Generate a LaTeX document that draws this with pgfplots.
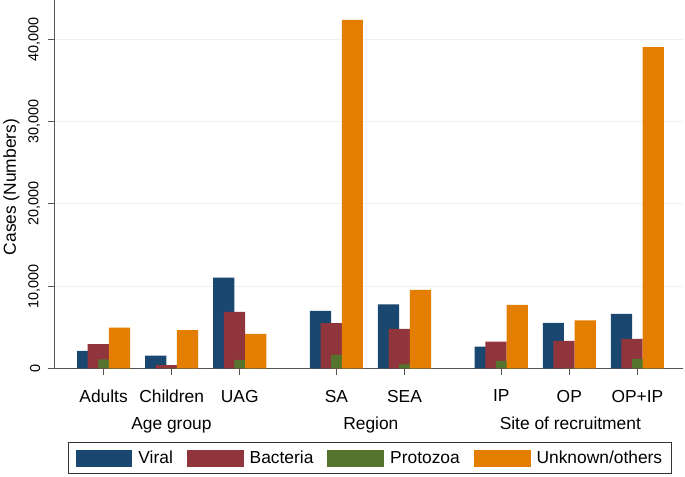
\documentclass[border=0pt]{standalone}
\usepackage{fontspec}
\setmainfont{Liberation Sans}
\usepackage{pgfplots}
\pgfplotsset{compat=1.18}
\definecolor{cviral}{HTML}{1A476F}
\definecolor{cbact}{HTML}{90353B}
\definecolor{cproto}{HTML}{55752F}
\definecolor{cunk}{HTML}{E37E00}
\definecolor{cgrid}{HTML}{EAF2F3}
\definecolor{caxis}{HTML}{555555}
\newcommand{\bigf}{\fontsize{17.5}{20}\selectfont}
\newcommand{\tickf}{\fontsize{14.5}{17}\selectfont}
\begin{document}
\begin{tikzpicture}[x=1bp,y=1bp]
\path (0,0) rectangle (685,477);
\begin{axis}[
  at={(53bp,108bp)}, anchor=south west,
  scale only axis, width=630bp, height=369bp,
  xmin=-0.717, xmax=8.51, ymin=0, ymax=44700,
  axis x line*=bottom, axis y line*=left,
  axis line style={caxis, line width=0.9bp},
  xtick={0,1,2,3.42,4.42,5.84,6.84,7.84},
  xticklabels={Adults,Children,UAG,SA,SEA,IP,OP,OP+IP},
  ytick={0,10000,20000,30000,40000},
  yticklabels={0,{10,000},{20,000},{30,000},{40,000}},
  scaled y ticks=false,
  tick align=outside, major tick length=7bp,
  tick style={caxis, line width=0.9bp},
  ymajorgrids, grid style={cgrid, line width=1bp},
  xticklabel style={font=\bigf},
  xticklabel shift=11bp,
  yticklabel style={rotate=90, anchor=south, font=\tickf},
  yticklabel shift=4bp,
  ylabel={Cases (Numbers)},
  ylabel style={font=\bigf, at={(axis description cs:-0.069,0.493)}, anchor=center},
  legend columns=4,
  legend style={at={(axis description cs:0.5016,-0.2005)}, anchor=north,
    draw=black!80, line width=0.8bp, font=\bigf, inner xsep=7bp, inner ysep=6.5bp,
    /tikz/every even column/.append style={column sep=12bp},
    /tikz/every odd column/.append style={column sep=4bp}},
  legend image code/.code={\path[#1, draw=none] (0bp,-8.5bp) rectangle (57bp,8.5bp);},
]
\addplot[ybar, bar width=0.312, bar shift=-0.234, fill=cviral, draw=none]
  coordinates {(0,2140) (1,1570) (2,11020) (3.42,6980) (4.42,7790) (5.84,2660) (6.84,5530) (7.84,6620)};
\addlegendentry{Viral}
\addplot[ybar, bar width=0.312, bar shift=-0.078, fill=cbact, draw=none]
  coordinates {(0,2940) (1,400) (2,6860) (3.42,5490) (4.42,4800) (5.84,3270) (6.84,3350) (7.84,3590)};
\addlegendentry{Bacteria}
\addplot[ybar, bar width=0.312, bar shift=0.078, fill=cproto, draw=none]
  coordinates {(0,1090) (1,20) (2,1050) (3.42,1660) (4.42,480) (5.84,930) (6.84,80) (7.84,1170)};
\addlegendentry{Protozoa}
\addplot[ybar, bar width=0.312, bar shift=0.234, fill=cunk, draw=none]
  coordinates {(0,4960) (1,4640) (2,4200) (3.42,42340) (4.42,9530) (5.84,7710) (6.84,5850) (7.84,39030)};
\addlegendentry{Unknown/others}
\end{axis}
\node[font=\bigf, anchor=base] at (170,47) {Age group};
\node[font=\bigf, anchor=base] at (370,47) {Region};
\node[font=\bigf, anchor=base] at (570,47) {Site of recruitment};
\end{tikzpicture}
\end{document}
